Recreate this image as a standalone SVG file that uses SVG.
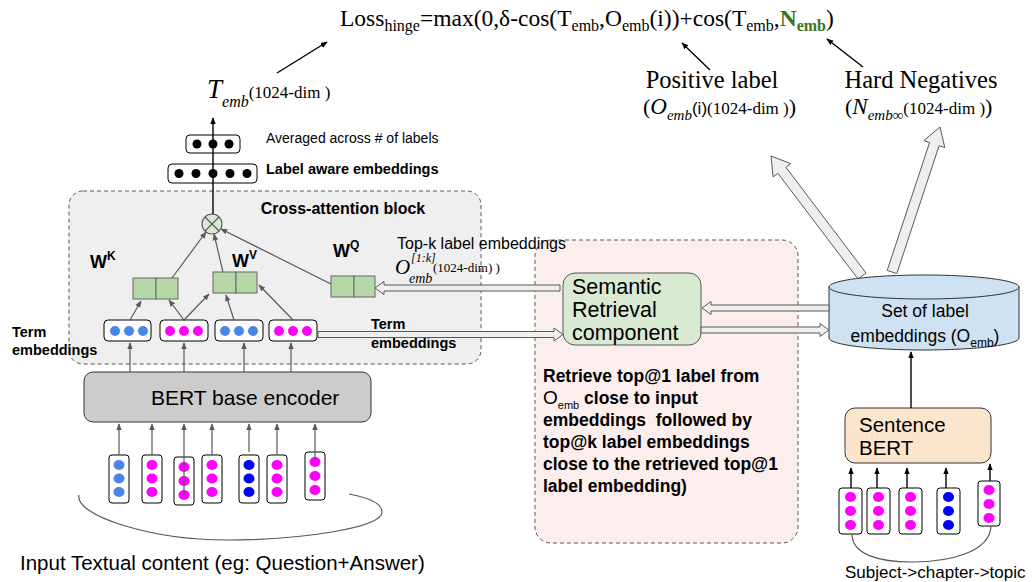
<svg xmlns="http://www.w3.org/2000/svg" width="1036" height="582" viewBox="0 0 1036 582">
<defs>
<marker id="ag" viewBox="0 0 10 10" refX="9" refY="5" markerWidth="7" markerHeight="7" markerUnits="userSpaceOnUse" orient="auto"><path d="M0,1 L10,5 L0,9 z" fill="#595959"/></marker>
<marker id="ab" viewBox="0 0 10 10" refX="9" refY="5" markerWidth="7" markerHeight="7" markerUnits="userSpaceOnUse" orient="auto"><path d="M0,1 L10,5 L0,9 z" fill="#000"/></marker>
</defs>
<style>
.sans{font-family:"Liberation Sans",Arial,sans-serif}
.serif{font-family:"Liberation Serif","Times New Roman",serif}
.b{font-weight:bold}
.i{font-style:italic}
.box{fill:#fff;stroke:#000;stroke-width:1}
.dB{fill:#4a86e8}.dM{fill:#ff00ff}.dD{fill:#0000ff}.dK{fill:#000}
.g{fill:#b6d7a8;stroke:#666;stroke-width:1}
.ga{stroke:#595959;stroke-width:1.2;fill:none;marker-end:url(#ag)}
.ba{stroke:#000;stroke-width:1.4;fill:none;marker-end:url(#ab)}
.hol{fill:#efefef;stroke:#595959;stroke-width:1}
.curve{fill:none;stroke:#595959;stroke-width:1.2}
</style>

<g id="cross_attention_block">
<rect x="69" y="191" width="412" height="173" rx="14" fill="#efefef" stroke="#595959" stroke-dasharray="4,3"/>
<text x="343" y="214" text-anchor="middle" class="sans b" font-size="16">Cross-attention block</text>
</g>
<g id="retrieval_block">
<rect x="535" y="240" width="263" height="303" rx="16" fill="#fdeeee" stroke="#595959" stroke-dasharray="4,3"/>
<text class="sans b" font-size="17.5">
<tspan x="543" y="382">Retrieve top@1 label from</tspan>
<tspan x="543" y="404" font-weight="normal" font-size="19">O</tspan><tspan font-weight="normal" font-size="11" dy="5">emb</tspan><tspan dy="-5"> close to input</tspan>
<tspan x="543" y="426">embeddings&#160;&#160;followed by</tspan>
<tspan x="543" y="448">top@k label embeddings</tspan>
<tspan x="543" y="470">close to the retrieved top@1</tspan>
<tspan x="543" y="492">label embedding)</tspan>
</text>
</g>

<g id="formula">
<text x="340" y="26" class="serif" font-size="23.5">Loss<tspan font-size="16" dy="5">hinge</tspan><tspan dy="-5">=max(0,δ-cos(T</tspan><tspan font-size="16" dy="5">emb</tspan><tspan dy="-5">,O</tspan><tspan font-size="16" dy="5">emb</tspan><tspan dy="-5">(i))+cos(T</tspan><tspan font-size="16" dy="5">emb</tspan><tspan dy="-5">,</tspan><tspan fill="#38761d" font-weight="bold">N</tspan><tspan fill="#38761d" font-weight="bold" font-size="16" dy="5">emb</tspan><tspan dy="-5">)</tspan></text>
</g>

<g id="t_emb">
<text x="207" y="98" class="serif"><tspan class="i" font-size="27">T</tspan><tspan class="i" font-size="16" dy="9">emb</tspan><tspan font-size="17" dy="-9">(1024-dim )</tspan></text>
</g>

<g id="positive_label">
<text x="712" y="88" text-anchor="middle" class="serif" font-size="24.5">Positive label</text>
<text x="643" y="114" class="serif" font-size="22">(<tspan class="i" font-size="23">O</tspan><tspan class="i" font-size="15" dy="6">emb</tspan><tspan class="sans" font-size="17" dy="-6">(i)</tspan><tspan font-size="17">(1024-dim )</tspan>)</text>
</g>

<g id="hard_negatives">
<text x="921" y="88" text-anchor="middle" class="serif" font-size="24.5">Hard Negatives</text>
<text x="845" y="114" class="serif" font-size="22">(<tspan class="i" font-size="23">N</tspan><tspan class="i" font-size="15" dy="6">emb∞</tspan><tspan font-size="17" dy="-6">(1024-dim )</tspan>)</text>
</g>

<g id="averaged_embedding">
<rect class="box" x="186" y="135" width="54" height="18" rx="4"/>
<circle class="dK" cx="197" cy="144" r="4.5"/><circle class="dK" cx="213" cy="144" r="4.5"/><circle class="dK" cx="229" cy="144" r="4.5"/>
<text x="266" y="143" class="sans" font-size="14">Averaged across # of labels</text>
</g>

<g id="label_aware_embeddings">
<rect class="box" x="168" y="164" width="89" height="19" rx="4"/>
<circle class="dK" cx="179" cy="173.5" r="4.5"/><circle class="dK" cx="196" cy="173.5" r="4.5"/><circle class="dK" cx="213" cy="173.5" r="4.5"/><circle class="dK" cx="230" cy="173.5" r="4.5"/><circle class="dK" cx="247" cy="173.5" r="4.5"/>
<text x="266" y="174" class="sans b" font-size="14.5">Label aware embeddings</text>
</g>

<g id="multiply">
<circle cx="212" cy="224" r="10" fill="#d9ead3" stroke="#595959" stroke-width="1.2"/>
<path d="M205,217 L219,231 M219,217 L205,231" stroke="#595959" stroke-width="1.2"/>
</g>

<g id="w_k">
<rect class="g" x="133" y="278" width="23" height="21"/><rect class="g" x="156" y="278" width="22" height="21"/>
<text x="90" y="268" class="sans b" font-size="18">W<tspan font-size="12" dy="-8">K</tspan></text>
</g>
<g id="w_v">
<rect class="g" x="213" y="272" width="23" height="21"/><rect class="g" x="236" y="272" width="21" height="21"/>
<text x="232" y="267" class="sans b" font-size="18">W<tspan font-size="12" dy="-8">V</tspan></text>
</g>
<g id="w_q">
<rect class="g" x="331" y="276" width="23" height="21"/><rect class="g" x="354" y="276" width="21" height="21"/>
<text x="333" y="257" class="sans b" font-size="18">W<tspan font-size="12" dy="-8">Q</tspan></text>
</g>

<g id="term_embeddings">
<rect class="box" x="104" y="320" width="47" height="21" rx="4"/>
<circle class="dB" cx="115" cy="331" r="5"/><circle class="dB" cx="129" cy="331" r="5"/><circle class="dB" cx="143" cy="331" r="5"/>
<rect class="box" x="160" y="320" width="48" height="21" rx="4"/>
<circle class="dM" cx="170" cy="331" r="5"/><circle class="dM" cx="184" cy="331" r="5"/><circle class="dM" cx="198" cy="331" r="5"/>
<rect class="box" x="215" y="320" width="48" height="21" rx="4"/>
<circle class="dB" cx="225" cy="331" r="5"/><circle class="dB" cx="239" cy="331" r="5"/><circle class="dB" cx="253" cy="331" r="5"/>
<rect class="box" x="269" y="320" width="48" height="21" rx="4"/>
<circle class="dM" cx="279" cy="331" r="5"/><circle class="dM" cx="293" cy="331" r="5"/><circle class="dM" cx="307" cy="331" r="5"/>
<text class="sans b" font-size="14.5"><tspan x="12" y="337">Term</tspan><tspan x="12" y="355">embeddings</tspan></text>
<text class="sans b" font-size="14.5"><tspan x="371" y="329">Term</tspan><tspan x="371" y="348">embeddings</tspan></text>
</g>

<g id="bert_encoder">
<rect x="84" y="372" width="287" height="50" rx="9" fill="#cccccc" stroke="#333" stroke-width="1"/>
<text x="151" y="405" class="sans" font-size="21">BERT base encoder</text>
</g>

<g id="input_tokens">
<rect class="box" x="109" y="455" width="20" height="48" rx="3"/>
<ellipse class="dB" cx="119" cy="465" rx="5.5" ry="5"/><ellipse class="dB" cx="119" cy="478.5" rx="5.5" ry="5"/><ellipse class="dB" cx="119" cy="492" rx="5.5" ry="5"/>
<rect class="box" x="142" y="455" width="20" height="48" rx="3"/>
<ellipse class="dM" cx="152" cy="465" rx="5.5" ry="5"/><ellipse class="dM" cx="152" cy="478.5" rx="5.5" ry="5"/><ellipse class="dM" cx="152" cy="492" rx="5.5" ry="5"/>
<rect class="box" x="174" y="457" width="20" height="48" rx="3"/>
<ellipse class="dM" cx="184" cy="467" rx="5.5" ry="5"/><ellipse class="dM" cx="184" cy="481" rx="5.5" ry="5"/><ellipse class="dM" cx="184" cy="495" rx="5.5" ry="5"/>
<rect class="box" x="202" y="455" width="20" height="48" rx="3"/>
<ellipse class="dM" cx="212" cy="465" rx="5.5" ry="5"/><ellipse class="dM" cx="212" cy="478.5" rx="5.5" ry="5"/><ellipse class="dM" cx="212" cy="492" rx="5.5" ry="5"/>
<rect class="box" x="239" y="455" width="20" height="48" rx="3"/>
<ellipse class="dD" cx="249" cy="465" rx="5.5" ry="5"/><ellipse class="dD" cx="249" cy="478.5" rx="5.5" ry="5"/><ellipse class="dD" cx="249" cy="492" rx="5.5" ry="5"/>
<rect class="box" x="267" y="455" width="20" height="48" rx="3"/>
<ellipse class="dM" cx="277" cy="465" rx="5.5" ry="5"/><ellipse class="dM" cx="277" cy="478.5" rx="5.5" ry="5"/><ellipse class="dM" cx="277" cy="492" rx="5.5" ry="5"/>
<rect class="box" x="305" y="452" width="20" height="48" rx="3"/>
<ellipse class="dM" cx="315" cy="462" rx="5.5" ry="5"/><ellipse class="dM" cx="315" cy="476" rx="5.5" ry="5"/><ellipse class="dM" cx="315" cy="490" rx="5.5" ry="5"/>
<text x="20" y="570" class="sans" font-size="20.5">Input Textual content (eg: Question+Answer)</text>
</g>

<g id="semantic_retrieval">
<rect x="563" y="273" width="138" height="72" rx="12" fill="#d9ead3" stroke="#595959" stroke-width="1"/>
<text class="sans" font-size="21.5"><tspan x="572" y="294">Semantic</tspan><tspan x="572" y="317">Retrieval</tspan><tspan x="572" y="340">component</tspan></text>
</g>

<g id="top_k_label">
<text x="397" y="249" class="sans" font-size="16">Top-k label embeddings</text>
<text class="serif"><tspan x="395" y="274" class="i" font-size="21">O</tspan><tspan x="409" y="283" class="i" font-size="14">emb</tspan><tspan x="411" y="262" class="i" font-size="12">[1:k]</tspan><tspan x="433" y="272" font-size="13">(1024-dim) )</tspan></text>
</g>

<g id="fat_arrows">
<polygon class="hol" points="771,156 790.7,163.7 785.9,167.3 866,273 858,279 777.9,173.3 773.1,176.9"/>
<polygon class="hol" points="940,127 944.8,147.6 939.1,145.7 896.8,273.6 887.2,270.4 929.6,142.5 923.9,140.6"/>
</g>

<g id="label_set">
<path d="M829,287 L829,338 A95,12 0 0 0 1019,338 L1019,287 Z" fill="#cfe2f3" stroke="#333" stroke-width="1"/>
<ellipse cx="924" cy="287" rx="95" ry="12" fill="#cfe2f3" stroke="#333" stroke-width="1"/>
<text x="925" y="317" text-anchor="middle" class="sans" font-size="17.5">Set of label</text>
<text x="925" y="342" text-anchor="middle" class="sans" font-size="17.5">embeddings (O<tspan font-size="12" dy="5">emb</tspan><tspan dy="-5">)</tspan></text>
</g>

<g id="sentence_bert">
<rect x="845" y="408" width="146" height="55" rx="10" fill="#fce5cd" stroke="#333" stroke-width="1"/>
<text class="sans" font-size="20.5"><tspan x="859" y="432">Sentence</tspan><tspan x="859" y="455">BERT</tspan></text>
</g>

<g id="label_tokens">
<rect class="box" x="839" y="488" width="23" height="46" rx="3"/>
<ellipse class="dM" cx="850.5" cy="497" rx="5.5" ry="5"/><ellipse class="dM" cx="850.5" cy="511" rx="5.5" ry="5"/><ellipse class="dM" cx="850.5" cy="525" rx="5.5" ry="5"/>
<rect class="box" x="867" y="488" width="23" height="46" rx="3"/>
<ellipse class="dM" cx="878.5" cy="497" rx="5.5" ry="5"/><ellipse class="dM" cx="878.5" cy="511" rx="5.5" ry="5"/><ellipse class="dM" cx="878.5" cy="525" rx="5.5" ry="5"/>
<rect class="box" x="899" y="488" width="23" height="46" rx="3"/>
<ellipse class="dM" cx="910.5" cy="497" rx="5.5" ry="5"/><ellipse class="dM" cx="910.5" cy="511" rx="5.5" ry="5"/><ellipse class="dM" cx="910.5" cy="525" rx="5.5" ry="5"/>
<rect class="box" x="937" y="488" width="23" height="46" rx="3"/>
<ellipse class="dD" cx="948.5" cy="497" rx="5.5" ry="5"/><ellipse class="dD" cx="948.5" cy="511" rx="5.5" ry="5"/><ellipse class="dD" cx="948.5" cy="525" rx="5.5" ry="5"/>
<rect class="box" x="978" y="481" width="22" height="45" rx="3"/>
<ellipse class="dM" cx="989" cy="490" rx="5.5" ry="5"/><ellipse class="dM" cx="989" cy="504" rx="5.5" ry="5"/><ellipse class="dM" cx="989" cy="518" rx="5.5" ry="5"/>
<text x="845" y="578" class="sans" font-size="17">Subject-&gt;chapter-&gt;topic</text>
</g>

<g id="connectors">
<path class="ba" d="M277,73 L327,42"/>
<path class="ba" d="M710,70 L682,43"/>
<path class="ba" d="M863,67 L827,39"/>
<path class="ba" d="M213,214 L213,118"/>
<path class="ga" d="M130,320 L141,301"/>
<path class="ga" d="M184,320 L169,300"/>
<path class="ga" d="M184,320 L209,294"/>
<path class="ga" d="M234,320 L226,295"/>
<path class="ga" d="M293,320 L259,285"/>
<path class="ga" d="M172,278 L206,232"/>
<path class="ga" d="M223,272 L214,234"/>
<path class="ga" d="M331,284 L221,229"/>
<path class="ga" d="M130,372 L130,343"/>
<path class="ga" d="M184,372 L184,343"/>
<path class="ga" d="M244,372 L244,343"/>
<path class="ga" d="M291,372 L291,343"/>
<path class="ga" d="M119,455 L119,424"/>
<path class="ga" d="M152,455 L152,424"/>
<path class="ga" d="M184,495 L184,424"/>
<path class="ga" d="M212,455 L212,424"/>
<path class="ga" d="M249,452 L249,424"/>
<path class="ga" d="M277,455 L277,424"/>
<path class="ga" d="M315,460 L315,424"/>
<path class="ba" d="M851,488 L851,468"/>
<path class="ba" d="M877,488 L877,468"/>
<path class="ba" d="M907,488 L907,468"/>
<path class="ba" d="M946,488 L946,468"/>
<path class="ba" d="M990,481 L990,464"/>
<path class="ba" d="M911,408 L911,352"/>
<path class="curve" d="M79,495 C74,515 150,540 227,540 C300,540 382,528 382,512 C382,502 365,497 349,494"/>
<path class="curve" d="M852,534 C852,555 880,562 912,562 C950,562 990,552 991,526"/>
<polygon class="hol" points="375,288 384,281.5 384,285 560,285 560,291 384,291 384,294.5"/>
<polygon class="hol" points="318,331.5 554,331.5 554,328 563,334.5 554,341 554,337.5 318,337.5"/>
<polygon class="hol" points="702,308 711,301.5 711,305 829,305 829,311 711,311 711,314.5"/>
<polygon class="hol" points="701,327 820,327 820,323.5 829,330 820,336.5 820,333 701,333"/>
</g>
</svg>
